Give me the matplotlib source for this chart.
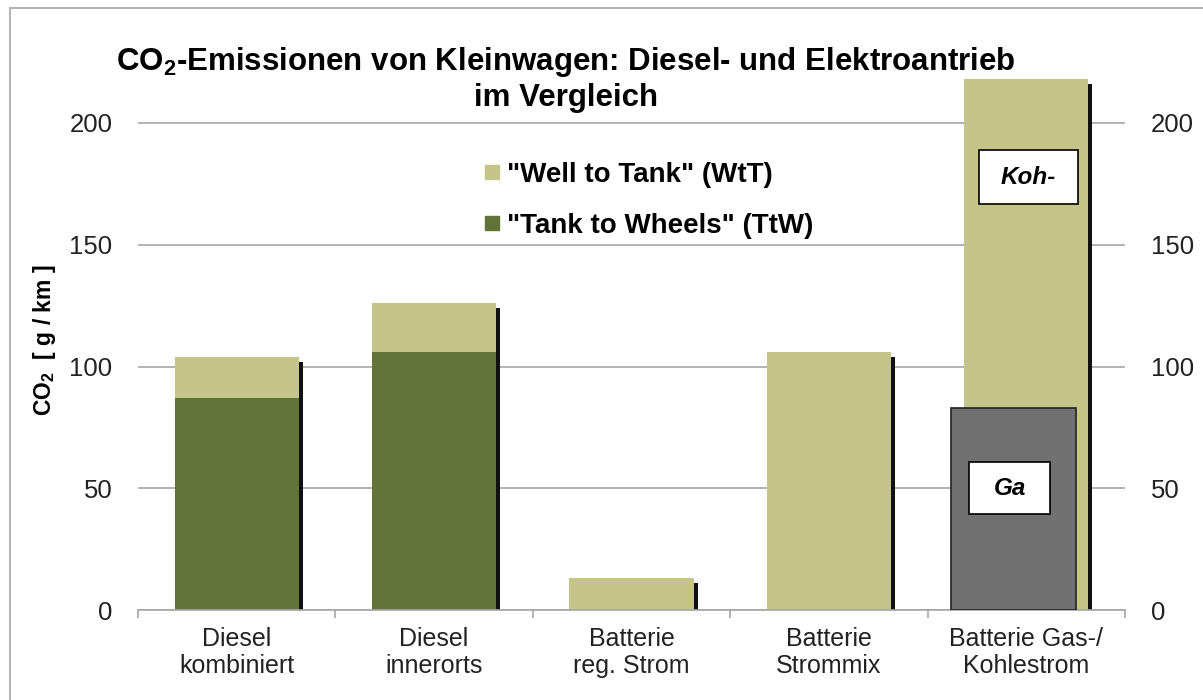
import matplotlib
matplotlib.use("Agg")
import matplotlib.pyplot as plt
from matplotlib.patches import Rectangle
from matplotlib.lines import Line2D
import numpy as np

plt.rcParams["font.family"] = ["Liberation Sans", "DejaVu Sans"]
plt.rcParams["mathtext.fontset"] = "custom"
plt.rcParams["mathtext.rm"] = "Liberation Sans"
plt.rcParams["mathtext.bf"] = "Liberation Sans:bold"

# data
categories = [
    "Diesel\nkombiniert",
    "Diesel\ninnerorts",
    "Batterie\nreg. Strom",
    "Batterie\nStrommix",
    "Batterie Gas-/\nKohlestrom",
]
ttw_values = [87, 106, 0, 0, 0]
wtt_values = [17, 20, 13, 106, 218]
gas_value = 83  # overlay bar "Ga" on the last category

WTT_COLOR = "#c5c58a"
TTW_COLOR = "#617336"
GAS_COLOR = "#717171"

fig = plt.figure(figsize=(12.03, 7.0), dpi=100)
axis = fig.add_axes([138 / 1203, 1 - 610 / 700, (1125 - 138) / 1203, (610 - 74.3) / 700])

x = np.arange(len(categories))
bar_width = 0.63
totals = [t + w for t, w in zip(ttw_values, wtt_values)]

# dark drop shadow on the right side of each stack
axis.bar(x + 0.02, [v - 2 for v in totals], width=bar_width, color="#111111", zorder=1.5)
axis.bar(x, ttw_values, width=bar_width, color=TTW_COLOR, zorder=2)
axis.bar(x, wtt_values, width=bar_width, bottom=ttw_values, color=WTT_COLOR, zorder=2)

# grey overlay bar for the gas/coal case, slightly shifted left
axis.bar(x[-1] - 0.065, gas_value, width=bar_width, color=GAS_COLOR,
         edgecolor="#222222", linewidth=1.2, zorder=3)

# label boxes on the last bar
for (x0, x1, y0, y1, label) in [(-0.24, 0.26, 166.7, 188.9, "Koh-"), (-0.29, 0.12, 39.4, 60.8, "Ga")]:
    axis.add_patch(Rectangle((x[-1] + x0, y0), x1 - x0, y1 - y0, facecolor="white",
                             edgecolor="black", linewidth=1.2, zorder=4))
    axis.text(x[-1] + (x0 + x1) / 2, (y0 + y1) / 2, label, ha="center", va="center",
              fontsize=17.5, fontweight="bold", fontstyle="italic", zorder=5)

axis.set_xlim(-0.5, len(categories) - 0.5)
axis.set_ylim(0, 220)
axis.set_yticks([0, 50, 100, 150, 200])
axis.yaxis.grid(True, color="#a6a6a6", linewidth=1.2, zorder=0)
axis.set_axisbelow(True)
axis.tick_params(axis="y", left=False, right=False, labelleft=True, labelright=True,
                 labelsize=18.5, pad=15, labelcolor="#222222")

axis.set_xticks(x)
axis.set_xticklabels(categories, fontsize=18, color="#222222", linespacing=1.2)
axis.set_xticks(np.arange(-0.5, len(categories)), minor=True)
axis.tick_params(axis="x", which="major", length=0, pad=12)
axis.tick_params(axis="x", which="minor", length=6, color="#a6a6a6", width=1.2)

for side in ["left", "right", "top"]:
    axis.spines[side].set_visible(False)
axis.spines["bottom"].set_color("#a6a6a6")
axis.spines["bottom"].set_linewidth(1.2)

fig.text(45 / 1203, 1 - 340 / 700, r"CO$_\mathbf{2}$  [ g / km ]", rotation=90,
         ha="center", va="center", fontsize=16.5, fontweight="bold")

fig.text(566 / 1203, 1 - 79 / 700,
         "CO$_\\mathbf{2}$-Emissionen von Kleinwagen: Diesel- und Elektroantrieb\nim Vergleich",
         ha="center", va="center", fontsize=22.5, fontweight="bold", linespacing=1.2)

handles = [
    Line2D([], [], marker="s", linestyle="", markersize=10.5, color=WTT_COLOR),
    Line2D([], [], marker="s", linestyle="", markersize=10.5, color=TTW_COLOR),
]
fig.legend(handles, ['"Well to Tank" (WtT)', '"Tank to Wheels" (TtW)'],
           loc="upper left", bbox_to_anchor=(464 / 1203, 1 - 148 / 700), frameon=False,
           prop={"size": 20, "weight": "bold"}, labelspacing=0.9, handletextpad=0.05,
           borderpad=0, handlelength=1.0)

# light frame around the chart area
fig.patches.append(Rectangle((10 / 1203, -0.05), 1.2, 1 - 8 / 700 + 0.05, transform=fig.transFigure,
                             fill=False, edgecolor="#b5b5b5", linewidth=1.5))

fig.savefig("out.png", dpi=100)
